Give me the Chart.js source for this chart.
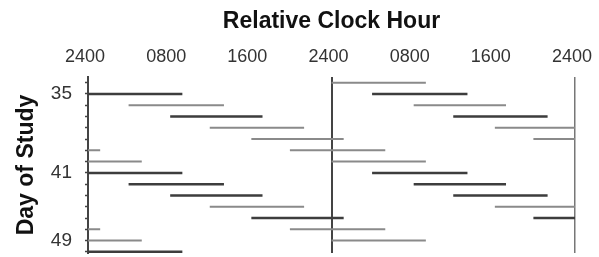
<!DOCTYPE html>
<html>
<head>
<meta charset="utf-8">
<script src="https://cdn.jsdelivr.net/npm/chart.js@4/dist/chart.umd.min.js"></script>
<style>
  body { margin: 0; background: #fff; }
  #wrap { width: 599px; height: 257px; }
</style>
</head>
<body>
<div id="wrap"><canvas id="actogram"></canvas></div>
<script>
// Sleep episodes, hours counted from 2400 at the start of the first plotted day
const sleepOnset = [0, 28, 56.1, 84, 112.1, 139.9, 168, 196, 224.1, 252, 280.1, 307.9, 336];
const sleepOffset = [9.3, 37.4, 65.2, 93.3, 121.2, 149.3, 177.3, 205.4, 233.2, 261.3, 289.2, 317.3, 345.3];

// Plot rows (row 0 = first day; row -1 only carries the right-hand copy)
const plotRows = [-1, 0, 1, 2, 3, 4, 5, 6, 7, 8, 9, 10, 11, 12, 13, 14];

// Axis ticks
const hourTicks = [0, 8, 16, 24, 32, 40, 48];
const hourLabels = ["2400", "0800", "1600", "2400", "0800", "1600", "2400"];
const dayTickRows = [0, 7, 13];
const dayLabels = ["35", "41", "49"];

// styling: rows that come out heavy in the scan
const heavyRows = [0, 2, 7, 8, 9, 11, 14];

// Double plot: every row shows 48 hours, so each episode lands on two rows
function rowPoints(row) {
  const pts = [];
  const from = row * 24;
  sleepOnset.forEach((s, i) => {
    const a = Math.max(s, from) - from;
    const b = Math.min(sleepOffset[i], from + 48) - from;
    if (b > a) {
      if (pts.length) pts.push({ x: a, y: null });
      pts.push({ x: a, y: row }, { x: b, y: row });
    }
  });
  return pts;
}

const datasets = plotRows.map((row) => {
  const heavy = heavyRows.includes(row);
  return {
    data: rowPoints(row),
    borderColor: heavy ? "#3d3d3d" : "#8a8a8a",
    borderWidth: heavy ? 2.5 : 2,
    borderCapStyle: "butt",
    pointRadius: 0,
    spanGaps: false,
    fill: false,
  };
});

new Chart(document.getElementById("actogram"), {
  type: "line",
  data: { datasets },
  options: {
    responsive: true,
    maintainAspectRatio: false,
    animation: false,
    layout: { padding: { left: 0, right: 24, top: 0, bottom: 4 } },
    plugins: {
      legend: { display: false },
      tooltip: { enabled: false },
    },
    scales: {
      x: {
        type: "linear",
        position: "top",
        min: 0,
        max: 48,
        afterBuildTicks: (scale) => {
          scale.ticks = hourTicks.map((v) => ({ value: v }));
        },
        afterFit: (scale) => {
          scale.height = 77;
          scale.paddingLeft = 0;
          scale.paddingRight = 0;
        },
        ticks: {
          autoSkip: false,
          maxRotation: 0,
          padding: 9,
          labelOffset: -3,
          color: "#333",
          font: { family: "Liberation Sans", size: 18 },
          callback: (v) => hourLabels[hourTicks.indexOf(v)],
        },
        grid: {
          drawTicks: false,
          color: (ctx) =>
            ctx.tick && ctx.tick.value === 24
              ? "#444"
              : ctx.tick && ctx.tick.value === 48
              ? "#777"
              : "rgba(0,0,0,0)",
          lineWidth: (ctx) => (ctx.tick && ctx.tick.value === 48 ? 1.5 : 2),
        },
        border: { display: false },
        title: {
          display: true,
          text: "Relative Clock Hour",
          color: "#111",
          font: { family: "Liberation Sans", size: 23, weight: "bold" },
          padding: { top: 8, bottom: 0 },
        },
      },
      y: {
        type: "linear",
        reverse: true,
        min: -1.5,
        max: 14.1,
        afterBuildTicks: (scale) => {
          scale.ticks = plotRows.map((v) => ({ value: v }));
        },
        afterFit: (scale) => {
          scale.width = 88;
          scale.paddingTop = 0;
          scale.paddingBottom = 0;
        },
        ticks: {
          autoSkip: false,
          padding: 13,
          color: "#333",
          font: { family: "Liberation Sans", size: 19 },
          callback: (v) => {
            const i = dayTickRows.indexOf(v);
            return i >= 0 ? dayLabels[i] : "";
          },
        },
        grid: {
          drawOnChartArea: false,
          drawTicks: true,
          tickLength: 3,
          tickColor: "#444",
          tickWidth: 1.5,
        },
        border: { display: true, color: "#444", width: 2 },
        title: {
          display: true,
          text: "Day of Study",
          color: "#111",
          font: { family: "Liberation Sans", size: 23, weight: "bold" },
          padding: { top: 13, bottom: 0 },
        },
      },
    },
  },
});
</script>
</body>
</html>
